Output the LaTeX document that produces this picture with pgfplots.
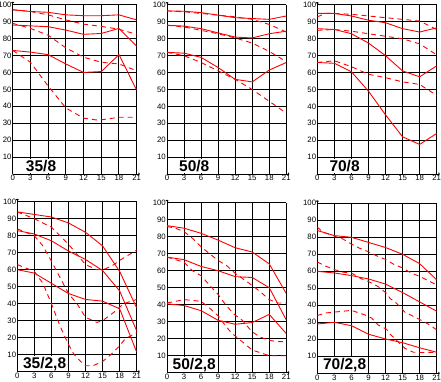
\documentclass[border=0pt]{standalone}
\usepackage{fontspec}
\setmainfont{Liberation Sans}
\usepackage{pgfplots}
\pgfplotsset{compat=1.18}
\usetikzlibrary{arrows.meta}
\pgfplotsset{
  mtf/.style={
    scale only axis, anchor=south west,
    xmin=0, xmax=21, ymin=0, ymax=100,
    xtick={0,3,...,21}, ytick={10,20,...,100},
    grid=major, grid style={black, line width=1pt},
    axis lines=left,
    axis line style={black, line width=1pt, -{To[length=1.5pt,width=3pt]}, shorten >=-3pt},
    major tick length=0pt,
    tick label style={font=\fontsize{7.8}{8}\selectfont},
    /pgf/number format/assume math mode=true,
    xticklabel style={inner sep=1.2pt},
    yticklabel style={inner sep=1pt},
  },
  sol/.style={red, line width=0.9pt, no markers},
  das/.style={red, line width=0.9pt, no markers, dash pattern=on 5pt off 4pt},
}
\newcommand{\lab}[2]{%
  \fill[white] (axis cs:0.25,0.45) rectangle (axis cs:8.8,#2);
  \node[font=\bfseries\fontsize{15.5}{15.5}\selectfont, inner sep=0pt] at (axis cs:4.8,4.6) {#1};}
\begin{document}
\begin{tikzpicture}
\useasboundingbox (0,0) rectangle (441pt,-382pt);
% ---------- 35/8
\begin{axis}[mtf, at={(12.7pt,-174pt)}, width=124pt, height=169.3pt]
\addplot[sol] coordinates {(0,97)(3,96)(6,95.5)(9,94)(12,93.5)(15,93.5)(18,94)(21,91)};
\addplot[das] coordinates {(0,97)(3,96)(6,94)(9,91)(12,88.5)(15,87.2)(18,85.5)(21,82.5)};
\addplot[sol] coordinates {(0,88)(3,87.5)(6,87)(9,85)(12,82.5)(15,83)(18,86)(21,75.5)};
\addplot[das] coordinates {(0,89)(3,86)(6,82)(9,74.5)(12,69)(15,66)(18,65)(21,61)};
\addplot[sol] coordinates {(0,73)(3,72)(6,70.5)(9,65)(12,60)(15,60.5)(18,70.5)(21,49.5)};
\addplot[das] coordinates {(0,73)(3,66)(6,52)(9,39)(12,33)(14,32)(15,32)(18,33.5)(21,33.5)};
\lab{35/8}{8.9}
\end{axis}
% ---------- 50/8
\begin{axis}[mtf, at={(167pt,-174pt)}, width=119.3pt, height=169pt]
\addplot[sol] coordinates {(0,96.5)(3,96.3)(6,95.5)(9,94)(12,92.5)(15,92)(18,91.5)(21,93.5)};
\addplot[das] coordinates {(0,96.5)(3,96)(6,95)(9,94)(12,93)(15,91.5)(18,88.5)(21,84)};
\addplot[sol] coordinates {(0,88)(3,87.5)(6,86)(9,83.5)(12,81)(15,80.5)(18,83)(21,84.5)};
\addplot[das] coordinates {(0,88)(3,87)(6,85)(9,83)(12,80.5)(15,77.5)(18,72.5)(21,66.5)};
\addplot[sol] coordinates {(0,72)(3,71.5)(6,69)(9,63)(12,56)(15,54.5)(18,61.5)(21,66)};
\addplot[das] coordinates {(0,72)(3,70)(6,66)(9,61)(12,56)(15,50)(18,43)(21,36)};
\lab{50/8}{8.9}
\end{axis}
% ---------- 70/8
\begin{axis}[mtf, at={(317.3pt,-174pt)}, width=119.4pt, height=169pt]
\addplot[sol] coordinates {(0,95)(3,95)(6,93.5)(9,91)(12,89.5)(15,86)(18,84)(21,86.5)};
\addplot[das] coordinates {(0,93)(1.5,95)(3,95)(6,94.5)(9,93.5)(12,92.5)(15,91.5)(18,90.5)(21,85.5)};
\addplot[sol] coordinates {(0,86)(3,85.5)(6,83)(9,77.5)(12,70)(15,61)(18,57.5)(21,64)};
\addplot[das] coordinates {(0,85)(3,85.5)(6,84.5)(9,83)(12,81.5)(15,80)(18,77)(21,70.5)};
\addplot[sol] coordinates {(0,66)(3,65.5)(6,60.5)(9,49)(12,35)(15,22)(18,17.5)(21,24)};
\addplot[das] coordinates {(0,66)(3,67)(6,63.5)(9,59)(12,57)(15,54.5)(18,53)(21,46.5)};
\lab{70/8}{8.9}
\end{axis}
% ---------- 35/2,8
\begin{axis}[mtf, at={(17.3pt,-371.7pt)}, width=119.4pt, height=170pt]
\addplot[sol] coordinates {(0,94)(3,92.5)(6,91)(9,87.5)(12,82)(15,74)(18,59)(21,37.5)};
\addplot[das] coordinates {(0,94)(3,90)(6,85)(9,75)(10.5,69)(12,63)(14,60)(15.5,60.5)(17,63)(18,65.5)(21,71.5)};
\addplot[sol] coordinates {(0,83)(3,81)(6,77)(9,71)(12,66)(15,59.5)(18,47.5)(21,24)};
\addplot[das] coordinates {(0,84)(3,80)(4.5,74)(6,65)(9,46)(10.5,40)(12,32)(14,29)(15,30)(17,35)(18.7,40)(21,42.5)};
\addplot[sol] coordinates {(0,60)(3,58)(6,52)(9,46)(12,42.5)(15,41.5)(18,37)(21,11.5)};
\addplot[das] coordinates {(0,63)(3,59)(4.5,52)(6,40)(7.5,27)(9,16)(10,10)(11,6.5)(12,3.5)(13.3,3.5)(15,6)(16.3,9.6)(17.8,14.5)(19,19.4)(21,23)};
\lab{35/2,8}{9.4}
\end{axis}
% ---------- 50/2,8
\begin{axis}[mtf, at={(167pt,-372.7pt)}, width=119.3pt, height=170pt]
\addplot[sol] coordinates {(0,86.5)(3,85)(6,82)(9,78)(12,73.5)(15,71)(18,64)(21,46.5)};
\addplot[das] coordinates {(0,86)(1.5,85)(3,83)(4.5,79)(6,74)(7.5,70)(9,66)(10.5,63)(12,58.5)(14.5,52.5)(16.3,48)(18,43)(19.5,41)(21,41)};
\addplot[sol] coordinates {(0,68)(3,66.5)(6,62.5)(9,60)(12,56.5)(15,56)(18,50)(21,31)};
\addplot[das] coordinates {(0,68)(3,65)(4.5,60)(6,57)(7.5,51.5)(9,46)(10.2,40.5)(11.7,34.7)(13.2,31)(15,24)(16.4,21)(18,19)(19.5,18.3)(21,18.3)};
\addplot[sol] coordinates {(0,40.5)(3,39.5)(6,36.5)(9,30.8)(12,28.5)(15,29.5)(18,34.3)(21,23)};
\addplot[das] coordinates {(0,41)(3,43)(6,42)(7.5,38)(9,33.5)(10.2,28)(11.4,23.2)(12.5,20.3)(15,13.3)(16.4,11.8)(18,10)(21,10)};
\lab{50/2,8}{9.4}
\end{axis}
% ---------- 70/2,8
\begin{axis}[mtf, at={(317.3pt,-373.3pt)}, width=119.4pt, height=170pt]
\addplot[sol] coordinates {(0,84)(3,81)(6,80)(9,77)(12,74)(15,70)(18,64.5)(21,55)};
\addplot[das] coordinates {(0,86)(1,83)(4.5,79)(6,76)(7.5,73.5)(9,71.5)(10.5,69)(12,67)(13.5,64)(15,62)(16.5,59)(18,57)(19.5,54.5)(21,52)};
\addplot[sol] coordinates {(0,60)(3,59)(6,57.5)(9,55.5)(12,52.5)(15,47.5)(18,42)(21,36.5)};
\addplot[das] coordinates {(0,65.5)(1.5,63)(3,61)(4.5,59.5)(6,59)(7.5,56)(9,54)(10.7,51)(12.2,47)(12.8,44)(14,41)(15.4,36)(16.6,34)(18.4,31)(19.8,28.4)(21,25.5)};
\addplot[sol] coordinates {(0,29)(3,30)(6,28)(9,23)(12,20.2)(15,18)(18,15)(21,12.4)};
\addplot[das] coordinates {(0,34)(1.5,35.5)(3,36)(6,37)(8.4,34.3)(9.6,32.4)(10.7,28.4)(12.2,25.9)(12.8,23.1)(15.4,14.7)(16.9,12.4)(18.4,12.2)(21,12.4)};
\lab{70/2,8}{9.4}
\end{axis}
\end{tikzpicture}
\end{document}
